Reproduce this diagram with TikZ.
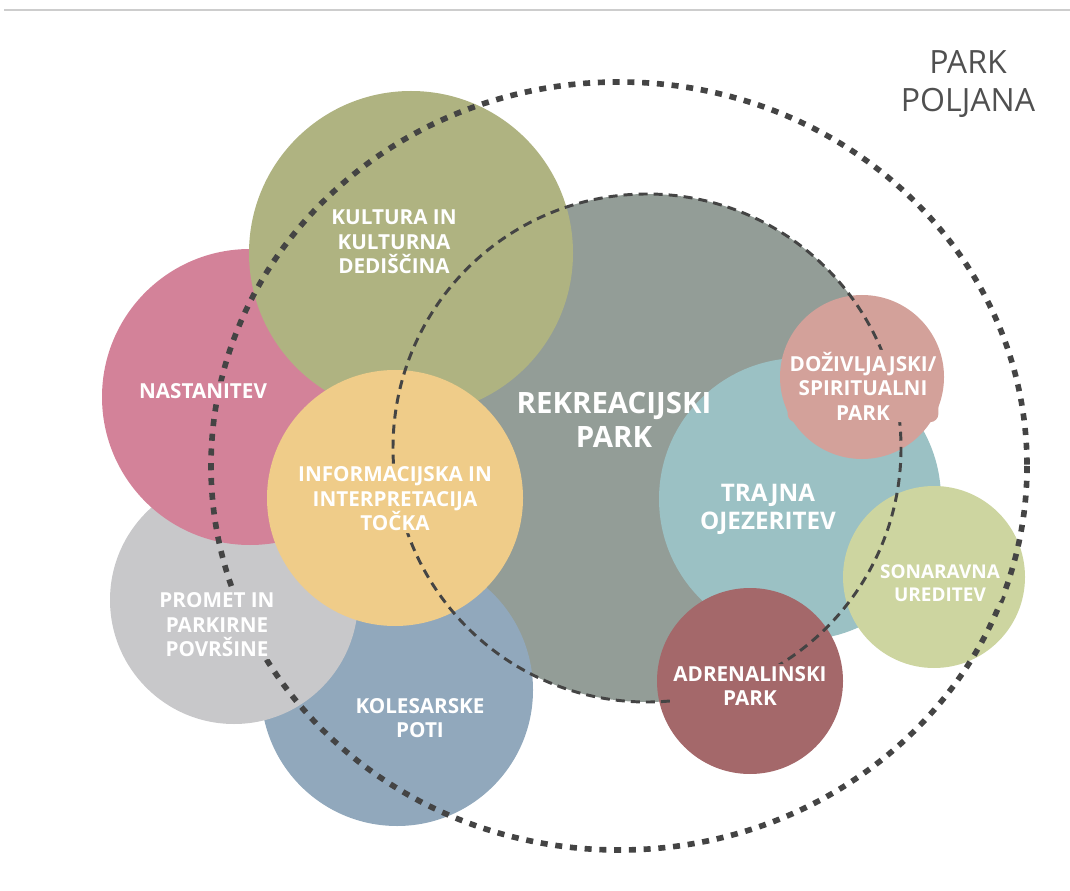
\documentclass[tikz,border=0pt]{standalone}
\usepackage{fontspec}
\setmainfont{Open Sans}
\usepackage{tikz}
\usepackage{xcolor}
\definecolor{pknast}{RGB}{211,130,153}
\definecolor{pkcult}{RGB}{175,179,129}
\definecolor{pkrek}{RGB}{147,157,151}
\definecolor{pkinfo}{RGB}{239,204,137}
\definecolor{pkprom}{RGB}{200,200,202}
\definecolor{pkkol}{RGB}{145,168,188}
\definecolor{pktraj}{RGB}{155,193,196}
\definecolor{pkdoz}{RGB}{211,161,154}
\definecolor{pkson}{RGB}{205,213,160}
\definecolor{pkadr}{RGB}{164,104,106}
\definecolor{pkdash}{RGB}{68,68,68}
\definecolor{pktitle}{RGB}{80,80,80}
\definecolor{pkrule}{RGB}{205,205,205}
\tikzstyle{lbl} = [text=white, align=center, inner sep=1.5pt, rounded corners=6pt, font=\bfseries\fontsize{14.7}{17.4}\selectfont]
\tikzstyle{bound} = [line width=4pt, dash pattern=on 5pt off 5.5pt, color=pkdash]
\tikzstyle{core} = [line width=2.1pt, dash pattern=on 6.4pt off 4.3pt, color=pkdash]

\begin{document}
\begin{tikzpicture}[x=0.025cm, y=-0.025cm]
\useasboundingbox (0,0) rectangle (1070,891);
% Top rule
\draw[line width=1.4pt, color=pkrule] (4,10) -- (1070,10);

% Circles
\fill[pkrek] (647,448) circle[radius=254];
\fill[pkkol] (397,690) circle[radius=136];
\fill[pkprom] (234,600) circle[radius=124];
\fill[pknast] (250,397) circle[radius=148];
\fill[pkcult] (411,253) circle[radius=162];
\fill[pkinfo] (395,498) circle[radius=128];
\fill[pktraj] (800,499) circle[radius=141];
\fill[pkdoz] (862,377) circle[radius=82];
\fill[pkson] (934,577) circle[radius=91];
\fill[pkadr] (750,681) circle[radius=93];

% Boundaries
\draw[bound] (619,466) ellipse[x radius=408, y radius=384];
\draw[core] (647,448) circle[radius=254];

% Labels
\node[lbl, fill=pknast] (nast) at (203,391) {NASTANITEV};
\node[lbl, fill=pkcult] (kultura) at (394,242) {KULTURA IN\\KULTURNA\\DEDIŠČINA};
\node[lbl, font=\bfseries\fontsize{20.9}{24.5}\selectfont] (rekre) at (614,420) {REKREACIJSKI\\PARK};
\node[lbl, fill=pkinfo] (info) at (395,499) {INFORMACIJSKA IN\\INTERPRETACIJA\\TOČKA};
\node[lbl, fill=pkprom] (promet) at (217,625) {PROMET IN\\PARKIRNE\\POVRŠINE};
\node[lbl, fill=pkkol] (kolo) at (420,718) {KOLESARSKE\\POTI};
\node[lbl, fill=pktraj, font=\bfseries\fontsize{17.2}{19.9}\selectfont] (trajna) at (768,509) {TRAJNA\\OJEZERITEV};
\node[lbl, fill=pkdoz] (doziv) at (863,386) {DOŽIVLJAJSKI/\\SPIRITUALNI\\PARK};
\node[lbl, fill=pkson, font=\bfseries\fontsize{13.5}{16}\selectfont] (sonar) at (940,583) {SONARAVNA\\UREDITEV};
\node[lbl, fill=pkadr] (adren) at (750,686) {ADRENALINSKI\\PARK};
\node[font=\fontsize{22.8}{27}\selectfont, text=pktitle, align=center] (title) at (968,84) {PARK\\POLJANA};
\end{tikzpicture}
\end{document}
